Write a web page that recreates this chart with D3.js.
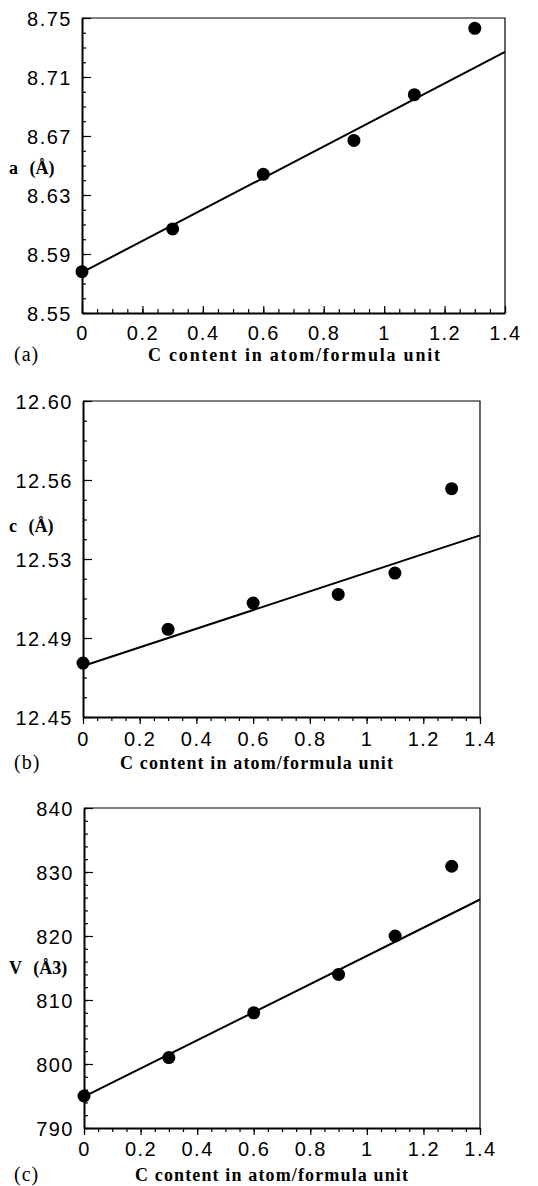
<!DOCTYPE html>
<html>
<head>
<meta charset="utf-8">
<script src="https://cdn.jsdelivr.net/npm/d3@7"></script>
<style>
  body { margin: 0; background: #fff; }
  svg { display: block; }
  .tick text { font-family: "Liberation Sans", Arial, sans-serif; font-size: 20px; letter-spacing: 1.5px; fill: #000; }
  .lbl { font-family: "Liberation Serif", "Times New Roman", serif; font-weight: bold; font-size: 18px; fill: #000; }
  .tag { font-family: "Liberation Serif", "Times New Roman", serif; font-size: 20px; letter-spacing: 1px; fill: #000; }
</style>
</head>
<body>
<svg id="fig" width="538" height="1186"></svg>
<script>
/*************************Data********************* */
const carbon = [0, 0.3, 0.6, 0.9, 1.1, 1.3];
const latticeA = [8.578, 8.607, 8.644, 8.667, 8.698, 8.743];
const latticeC = [12.4756, 12.4916, 12.5041, 12.5082, 12.5183, 12.5584];
const volume = [795.0, 801.0, 808.0, 814.0, 820.0, 830.9];

// fitted straight lines, value at x = 0 and x = 1.4
const fitX = [0, 1.4];
const fitA = [8.5775, 8.727];
const fitC = [12.4742, 12.5362];
const fitV = [794.9, 825.7];

const xTicks = [0, 0.2, 0.4, 0.6, 0.8, 1, 1.2, 1.4];
const xTickLabels = ["0", "0.2", "0.4", "0.6", "0.8", "1", "1.2", "1.4"];

const yTicksA = [8.55, 8.59, 8.63, 8.67, 8.71, 8.75];
const yLabelsA = ["8.55", "8.59", "8.63", "8.67", "8.71", "8.75"];
const yTicksC = [12.45, 12.4875, 12.525, 12.5625, 12.6];
const yLabelsC = ["12.45", "12.49", "12.53", "12.56", "12.60"];
const yTicksV = [790, 800, 810, 820, 830, 840];
const yLabelsV = ["790", "800", "810", "820", "830", "840"];

const xTitle = "C content in atom/formula unit";

/*************************Panels********************* */
const panels = [
  { tag: "(a)", ylab: "a (Å)", ys: latticeA, fit: fitA, yt: yTicksA, yl: yLabelsA, ydom: [8.55, 8.75], ysub: 4,
    left: 82, right: 505, top: 18, bottom: 313, tickUp: true, xlabY: 340, titleY: 361, titleX: 148, titleW: 292, yLabY: 174 },
  { tag: "(b)", ylab: "c (Å)", ys: latticeC, fit: fitC, yt: yTicksC, yl: yLabelsC, ydom: [12.45, 12.6], ysub: 4,
    left: 83, right: 480, top: 401, bottom: 717, tickUp: false, xlabY: 746, titleY: 769, titleX: 120, titleW: 273, yLabY: 532 },
  { tag: "(c)", ylab: "V (Å3)", ys: volume, fit: fitV, yt: yTicksV, yl: yLabelsV, ydom: [790, 840], ysub: 5,
    left: 84, right: 480, top: 808, bottom: 1128, tickUp: false, xlabY: 1156, titleY: 1181, titleX: 135, titleW: 273, yLabY: 974 },
];

const svg = d3.select("svg#fig");

const drawPanel = (p) => {
  const g = svg.append("g").attr("class", "panel");
  const x = d3.scaleLinear().domain([0, 1.4]).range([p.left, p.right]);
  const y = d3.scaleLinear().domain(p.ydom).range([p.bottom, p.top]);

  // frame top/right
  g.append("path")
    .attr("d", `M${p.left},${p.top}H${p.right}V${p.bottom}`)
    .attr("fill", "none").attr("stroke", "#000").attr("stroke-width", 1.2);

  // minor ticks
  const yStep = (p.yt[1] - p.yt[0]) / p.ysub;
  const yMinor = d3.range(p.ydom[0], p.ydom[1] + yStep / 2, yStep);
  const xMinor = d3.range(0, 1.4 + 0.025, 0.05);
  g.append("g").attr("transform", `translate(${p.left},0)`)
    .call(d3.axisLeft(y).tickValues(yMinor).tickSize(-4).tickSizeOuter(0).tickFormat(""))
    .call((s) => s.select(".domain").remove());
  g.append("g").attr("transform", `translate(0,${p.bottom})`)
    .call(d3.axisBottom(x).tickValues(xMinor).tickSize(p.tickUp ? -4 : 4).tickSizeOuter(0).tickFormat(""))
    .call((s) => s.select(".domain").remove());

  // major ticks and labels
  const yAxis = g.append("g").attr("transform", `translate(${p.left},0)`)
    .call(d3.axisLeft(y).tickValues(p.yt).tickSize(-9).tickSizeOuter(0).tickPadding(10)
      .tickFormat((d, i) => p.yl[i]));
  yAxis.select(".domain").attr("stroke-width", 2);
  yAxis.selectAll(".tick text").attr("dy", "0.36em");

  const xAxis = g.append("g").attr("transform", `translate(0,${p.bottom})`)
    .call(d3.axisBottom(x).tickValues(xTicks).tickSize(p.tickUp ? -7 : 7).tickSizeOuter(0).tickPadding(0)
      .tickFormat((d, i) => xTickLabels[i]));
  xAxis.select(".domain").attr("stroke-width", 2);
  xAxis.selectAll(".tick text").attr("y", p.xlabY - p.bottom).attr("dy", 0);
  g.selectAll(".tick line").attr("stroke-width", 1.2);

  // fitted line
  const line = d3.line().x((d) => x(d[0])).y((d) => y(d[1]));
  g.append("path")
    .datum(fitX.map((v, i) => [v, p.fit[i]]))
    .attr("d", line)
    .attr("fill", "none").attr("stroke", "#000").attr("stroke-width", 2);

  // points
  g.selectAll("circle")
    .data(carbon.map((v, i) => [v, p.ys[i]]))
    .join("circle")
    .attr("cx", (d) => x(d[0]))
    .attr("cy", (d) => y(d[1]))
    .attr("r", 6.5)
    .attr("fill", "#000");

  // texts
  g.append("text").attr("class", "lbl")
    .attr("x", p.titleX).attr("y", p.titleY)
    .attr("textLength", p.titleW).attr("lengthAdjust", "spacing")
    .text(xTitle);
  g.append("text").attr("class", "tag").attr("x", 14).attr("y", p.titleY).text(p.tag);
  g.append("text").attr("class", "lbl")
    .attr("x", 9).attr("y", p.yLabY)
    .style("word-spacing", "7px")
    .text(p.ylab);
};

panels.forEach(drawPanel);
</script>
</body>
</html>
